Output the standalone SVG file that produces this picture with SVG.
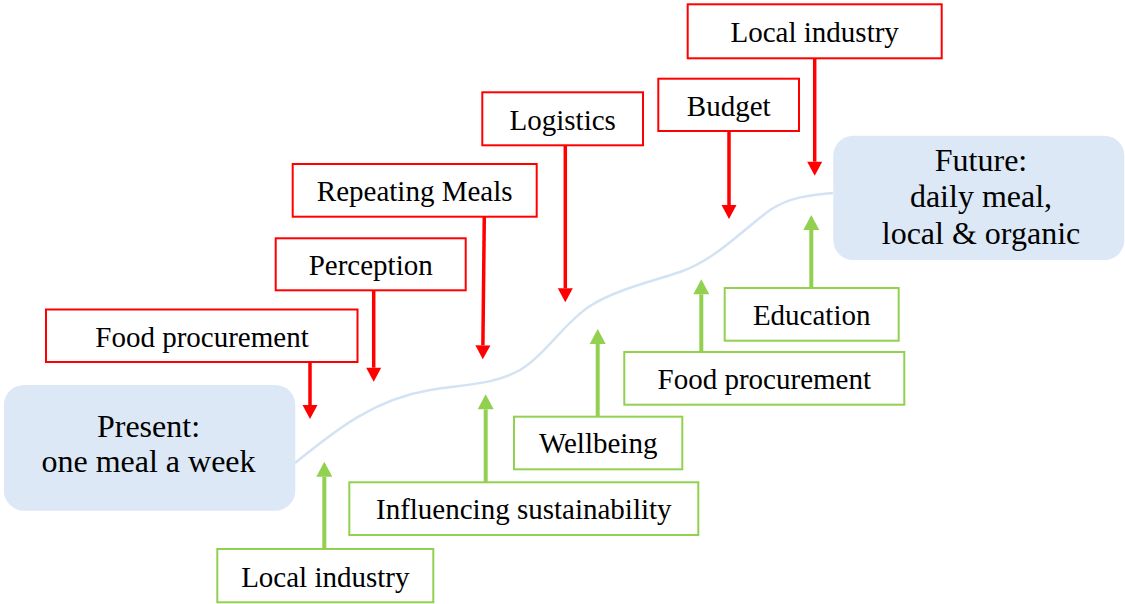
<svg xmlns="http://www.w3.org/2000/svg" width="1125" height="604" viewBox="0 0 1125 604">
  <style>
    .lbl { font-family: "Liberation Serif", "Times New Roman", serif; font-size: 29px; fill: #000; text-anchor: middle; }
    .big { font-family: "Liberation Serif", "Times New Roman", serif; font-size: 32px; fill: #000; text-anchor: middle; }
    .barrier { fill: #fff; stroke: #ff0000; stroke-width: 2; }
    .driver { fill: #fff; stroke: #92d050; stroke-width: 2; }
    .state { fill: #dce8f5; stroke: none; }
    .down { stroke: #ff0000; stroke-width: 3.5; fill: none; marker-end: url(#head-red); }
    .up { stroke: #92d050; stroke-width: 4; fill: none; marker-end: url(#head-green); }
    .path { stroke: #d3e3f4; stroke-width: 2.5; fill: none; }
  </style>
  <defs>
    <marker id="head-red" markerUnits="userSpaceOnUse" markerWidth="14" markerHeight="15" refX="0" refY="7.5" orient="auto" overflow="visible">
      <path d="M0,0 L14,7.5 L0,15 Z" fill="#ff0000"/>
    </marker>
    <marker id="head-green" markerUnits="userSpaceOnUse" markerWidth="15" markerHeight="16" refX="0" refY="8" orient="auto" overflow="visible">
      <path d="M0,0 L15,8 L0,16 Z" fill="#92d050"/>
    </marker>
  </defs>

  <rect width="1125" height="604" fill="#fff"/>

  <!-- transition path from present to future -->
  <g id="connectors">
    <path class="path" d="M295,463 C330,435 370,400 430,390 C470,384 495,384 520,370 C545,355 565,322 590,306 C615,290 650,282 680,272 C715,260 740,232 770,210 C790,197 810,195 833,193"/>

    <!-- barriers pushing down -->
    <line class="down" x1="310" y1="362" x2="310" y2="405"/>
    <line class="down" x1="373.7" y1="291" x2="373.7" y2="367.7"/>
    <line class="down" x1="484.3" y1="216.7" x2="482.9" y2="345.3"/>
    <line class="down" x1="565.3" y1="145.3" x2="565.3" y2="288.3"/>
    <line class="down" x1="729" y1="131" x2="729" y2="205"/>
    <line class="down" x1="814.7" y1="58.3" x2="814.7" y2="161.7"/>

    <!-- drivers pushing up -->
    <line class="up" x1="324.3" y1="549" x2="324.3" y2="476.7"/>
    <line class="up" x1="485.7" y1="482.3" x2="485.7" y2="409.3"/>
    <line class="up" x1="597.7" y1="416.7" x2="597.7" y2="344"/>
    <line class="up" x1="701.3" y1="352" x2="701.3" y2="294.3"/>
    <line class="up" x1="811.3" y1="288" x2="811.3" y2="230"/>
  </g>

  <g id="present">
    <rect class="state" x="4" y="385" width="291.3" height="125.7" rx="20"/>
    <text class="big" x="148.5" y="436.7">Present:</text>
    <text class="big" x="148.5" y="472">one meal a week</text>
  </g>

  <g id="future">
    <rect class="state" x="833.3" y="135.7" width="291" height="124.3" rx="20"/>
    <text class="big" x="981" y="170.7">Future:</text>
    <text class="big" x="981" y="207">daily meal,</text>
    <text class="big" x="981" y="244">local &amp; organic</text>
  </g>

  <!-- barriers -->
  <g id="barrier-food-procurement">
    <rect class="barrier" x="46" y="309.5" width="311.5" height="52.5"/>
    <text class="lbl" x="202" y="346.5">Food procurement</text>
  </g>
  <g id="barrier-perception">
    <rect class="barrier" x="275.7" y="238.3" width="190" height="52"/>
    <text class="lbl" x="370.7" y="275">Perception</text>
  </g>
  <g id="barrier-repeating-meals">
    <rect class="barrier" x="292.7" y="164" width="244" height="52.7"/>
    <text class="lbl" x="414.7" y="201">Repeating Meals</text>
  </g>
  <g id="barrier-logistics">
    <rect class="barrier" x="482.3" y="92.3" width="160.7" height="53"/>
    <text class="lbl" x="562.7" y="129.5">Logistics</text>
  </g>
  <g id="barrier-budget">
    <rect class="barrier" x="658.3" y="78.7" width="140.7" height="52.3"/>
    <text class="lbl" x="728.7" y="115.5">Budget</text>
  </g>
  <g id="barrier-local-industry">
    <rect class="barrier" x="687.7" y="4.3" width="254" height="54"/>
    <text class="lbl" x="814.7" y="41.5">Local industry</text>
  </g>

  <!-- drivers -->
  <g id="driver-local-industry">
    <rect class="driver" x="217.3" y="549" width="216" height="53.3"/>
    <text class="lbl" x="325.3" y="586.5">Local industry</text>
  </g>
  <g id="driver-influencing-sustainability">
    <rect class="driver" x="349.3" y="482.3" width="349" height="52.7"/>
    <text class="lbl" x="523.8" y="519">Influencing sustainability</text>
  </g>
  <g id="driver-wellbeing">
    <rect class="driver" x="514" y="416.7" width="168.3" height="52.6"/>
    <text class="lbl" x="598.2" y="453">Wellbeing</text>
  </g>
  <g id="driver-food-procurement">
    <rect class="driver" x="624.3" y="352" width="280" height="52.7"/>
    <text class="lbl" x="764.3" y="388.5">Food procurement</text>
  </g>
  <g id="driver-education">
    <rect class="driver" x="724.7" y="288" width="174" height="52.7"/>
    <text class="lbl" x="811.7" y="325">Education</text>
  </g>
</svg>
